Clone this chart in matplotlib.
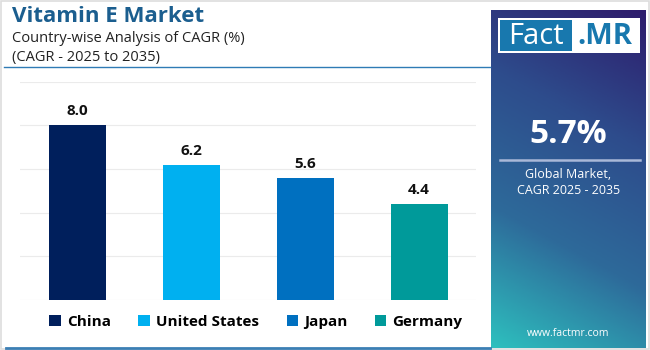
import numpy as np
import matplotlib
matplotlib.use("Agg")
import matplotlib.pyplot as plt
from matplotlib.patches import Patch, Rectangle
from matplotlib.colors import LinearSegmentedColormap

plt.rcParams['font.family'] = ['Open Sans', 'DejaVu Sans']

# data
countries = ["China", "United States", "Japan", "Germany"]
cagr = [8.0, 6.2, 5.6, 4.4]
colors = ["#001f5c", "#00b0f0", "#0070c0", "#009a9a"]
global_cagr = "5.7%"

fig = plt.figure(figsize=(6.5, 3.5), dpi=100)
W, H = 650.0, 350.0

def fx(px):
    return px / W

def fy(py):
    return 1 - py / H

# light frame
fig.patches.append(Rectangle((0.002, 0.003), 0.996, 0.994, transform=fig.transFigure,
                             fill=False, edgecolor="#dddddd", lw=1.2))

# title block
fig.text(fx(12), fy(16), "Vitamin E Market", fontsize=16, fontweight="bold",
         color="#1b5e8f", va="center", ha="left")
fig.text(fx(12), fy(38), "Country-wise Analysis of CAGR (%)", fontsize=10.5,
         color="#222222", va="center", ha="left")
fig.text(fx(12), fy(57), "(CAGR - 2025 to 2035)", fontsize=10.5,
         color="#222222", va="center", ha="left")
fig.add_artist(plt.Line2D([fx(4), fx(490)], [fy(67), fy(67)], color="#2f7bb5", lw=1.0))
fig.add_artist(plt.Line2D([fx(6), fx(490)], [fy(347.5), fy(347.5)], color="#3b7fb4", lw=2.0))

# bar chart
ax = fig.add_axes([fx(20), fy(300), fx(476) - fx(20), fy(81.7) - fy(300)])
x = np.arange(len(countries))
bars = ax.bar(x, cagr, width=0.5, color=colors, zorder=3)
ax.set_xlim(-0.5, len(countries) - 0.5)
ax.set_ylim(0, 10)
ax.set_yticks([0, 2, 4, 6, 8, 10])
ax.yaxis.grid(True, color="#ebebeb", lw=0.8, zorder=0)
ax.set_xticks([])
ax.tick_params(left=False, labelleft=False)
for s in ax.spines.values():
    s.set_visible(False)
for b, v in zip(bars, cagr):
    ax.annotate(f"{v:.1f}", (b.get_x() + b.get_width() / 2, v), xytext=(0, 5),
                textcoords="offset points", ha="center", va="bottom",
                fontsize=11, fontweight="bold", color="#111111")

handles = [Patch(facecolor=c, edgecolor="none") for c in colors]
fig.legend(handles, countries, loc="center", bbox_to_anchor=(fx(256), fy(322)),
           ncol=4, frameon=False, prop={"weight": "bold", "size": 11},
           handlelength=0.75, handleheight=0.75, handletextpad=0.4,
           columnspacing=1.8)

# right panel
pax = fig.add_axes([fx(491), fy(348), fx(646) - fx(491), fy(10) - fy(348)])
gx, gy = np.meshgrid(np.linspace(0, 1, 60), np.linspace(0, 1, 120))
t = 0.8 * gy + 0.2 * gx
cmap = LinearSegmentedColormap.from_list("panel", ["#2dbfbe", "#2e6a9a", "#2d4c8c", "#2e1c6c"])
pax.imshow(t, cmap=cmap, extent=(0, 1, 0, 1), origin="lower", aspect="auto")
pax.set_xlim(0, 1)
pax.set_ylim(0, 1)
pax.axis("off")

def px2ax(px, py):
    return (px - 491) / 155.0, (348 - py) / 338.0

x0, y0 = px2ax(498, 53)
x1, y1 = px2ax(640, 18)
pax.add_patch(Rectangle((x0, y0), x1 - x0, y1 - y0, facecolor="white", edgecolor="none"))
bx0, by0 = px2ax(500, 51)
bx1, by1 = px2ax(572, 20)
pax.add_patch(Rectangle((bx0, by0), bx1 - bx0, by1 - by0, facecolor="#1878ae", edgecolor="none"))
pax.text(*px2ax(536, 36), "Fact", fontsize=21, color="white", ha="center", va="center")
pax.text(*px2ax(605, 36), ".MR", fontsize=21, color="#1878ae", fontweight="bold",
         ha="center", va="center")

pax.text(*px2ax(568.5, 134), global_cagr, fontsize=24, color="white", fontweight="bold",
         ha="center", va="center")
lx0, ly = px2ax(500, 160)
lx1, _ = px2ax(640, 160)
pax.plot([lx0, lx1], [ly, ly], color="#a9b8d8", lw=1.8)
pax.text(*px2ax(568.5, 174), "Global Market,", fontsize=9, color="white",
         ha="center", va="center")
pax.text(*px2ax(568.5, 190), "CAGR 2025 - 2035", fontsize=9, color="white",
         ha="center", va="center")
pax.text(*px2ax(568.5, 334), "www.factmr.com", fontsize=7.5, color="white",
         ha="center", va="center")

fig.savefig("out.png", dpi=100)
